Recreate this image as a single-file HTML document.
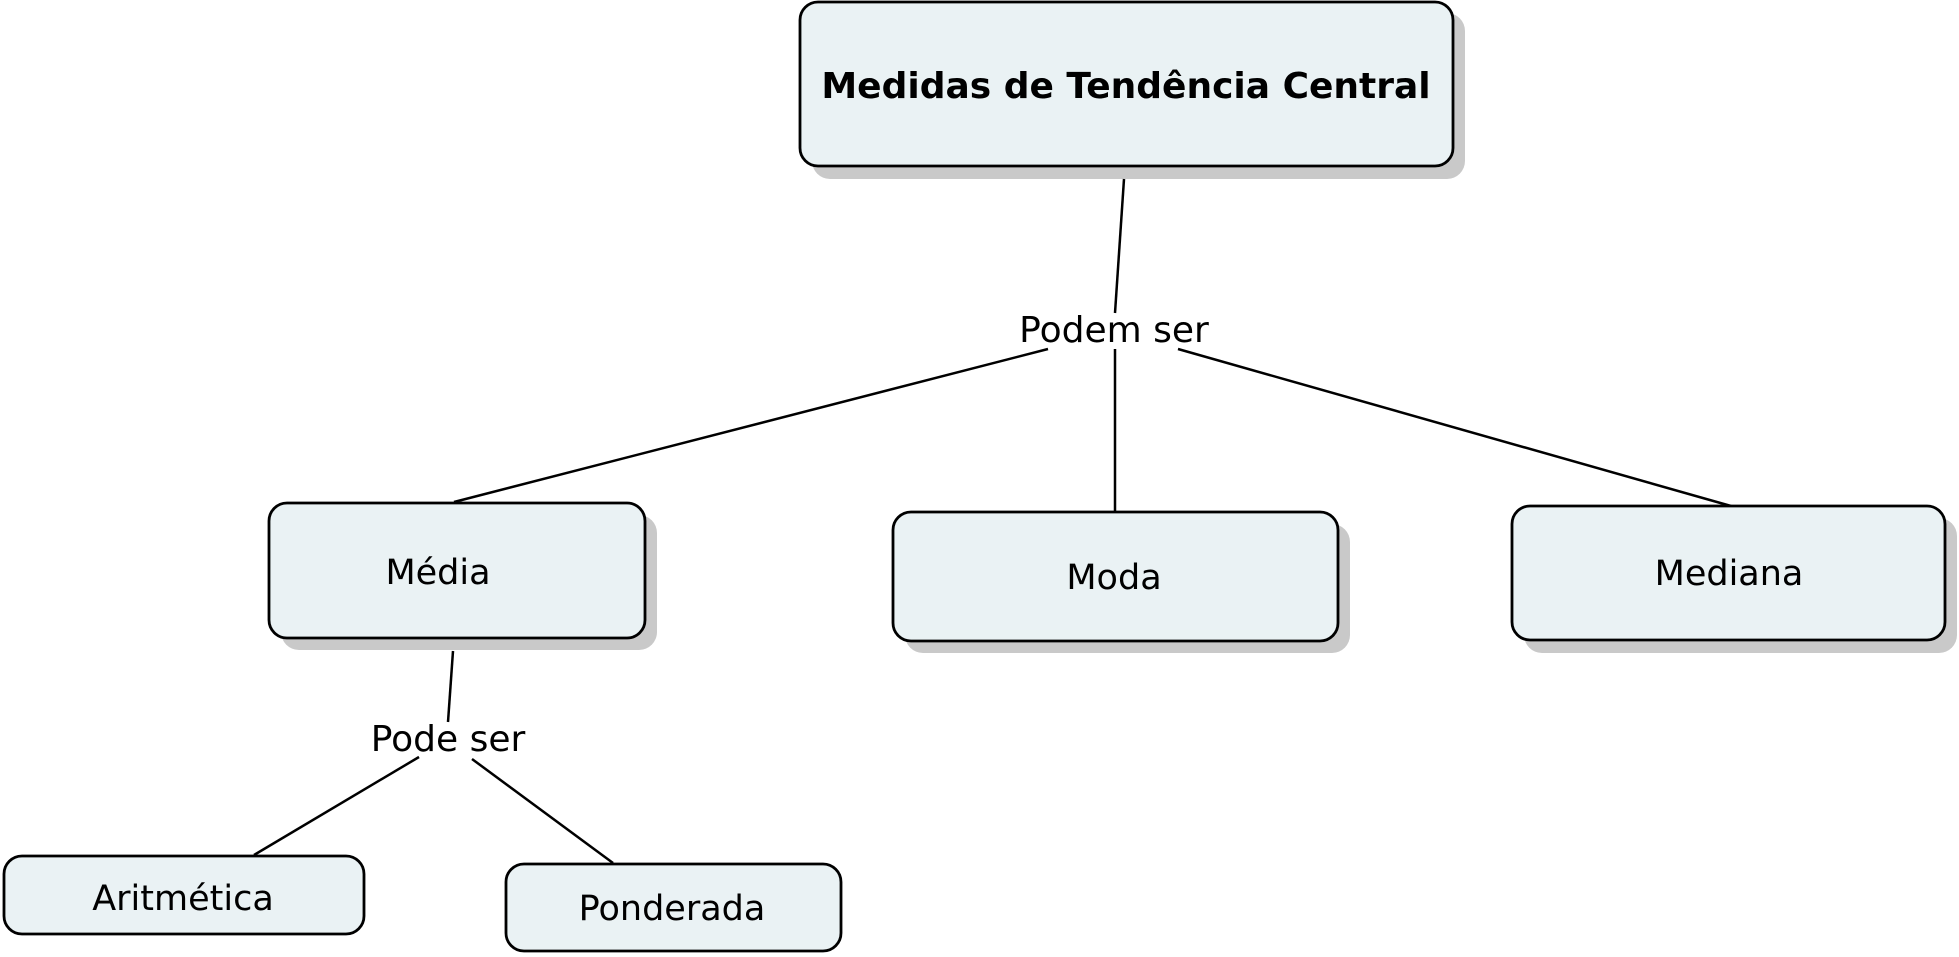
<!DOCTYPE html>
<html><head><meta charset="utf-8"><style>
html,body{margin:0;padding:0;background:#fff;}
svg{display:block;}
text{font-family:"DejaVu Sans","Liberation Sans",sans-serif;fill:#000;}
</style></head><body>
<svg width="1959" height="957" viewBox="0 0 1959 957" xmlns="http://www.w3.org/2000/svg">
<g fill="#c9c9c9">
<rect x="812" y="13" width="653" height="166" rx="18"/>
<rect x="281" y="515" width="376" height="135" rx="18"/>
<rect x="905" y="524" width="445" height="129" rx="18"/>
<rect x="1524" y="518" width="433" height="135" rx="18"/>
</g>
<g stroke="#000" stroke-width="2.5" fill="none">
<line x1="1124" y1="179" x2="1115" y2="313"/>
<line x1="1048" y1="349" x2="454" y2="502"/>
<line x1="1115" y1="349" x2="1115" y2="512"/>
<line x1="1178" y1="349" x2="1731" y2="506"/>
<line x1="453" y1="651" x2="448" y2="722"/>
<line x1="419" y1="757" x2="254" y2="855"/>
<line x1="472" y1="759" x2="613" y2="863"/>
</g>
<g fill="#eaf2f4" stroke="#000" stroke-width="2.8">
<rect x="800" y="2" width="653" height="164" rx="18"/>
<rect x="269" y="503" width="376" height="135" rx="18"/>
<rect x="893" y="512" width="445" height="129" rx="18"/>
<rect x="1512" y="506" width="433" height="134" rx="18"/>
<rect x="4" y="856" width="360" height="78" rx="18"/>
<rect x="506" y="864" width="335" height="87" rx="18"/>
</g>
<g text-anchor="middle" font-size="35">
<text x="1126" y="98" font-weight="bold" font-size="36">Medidas de Tendência Central</text>
<text x="1114" y="342" font-size="36">Podem ser</text>
<text x="438" y="584">Média</text>
<text x="1114" y="589">Moda</text>
<text x="1729" y="585">Mediana</text>
<text x="448" y="751" font-size="36">Pode ser</text>
<text x="183" y="910">Aritmética</text>
<text x="672" y="920">Ponderada</text>
</g>
</svg>
</body></html>
